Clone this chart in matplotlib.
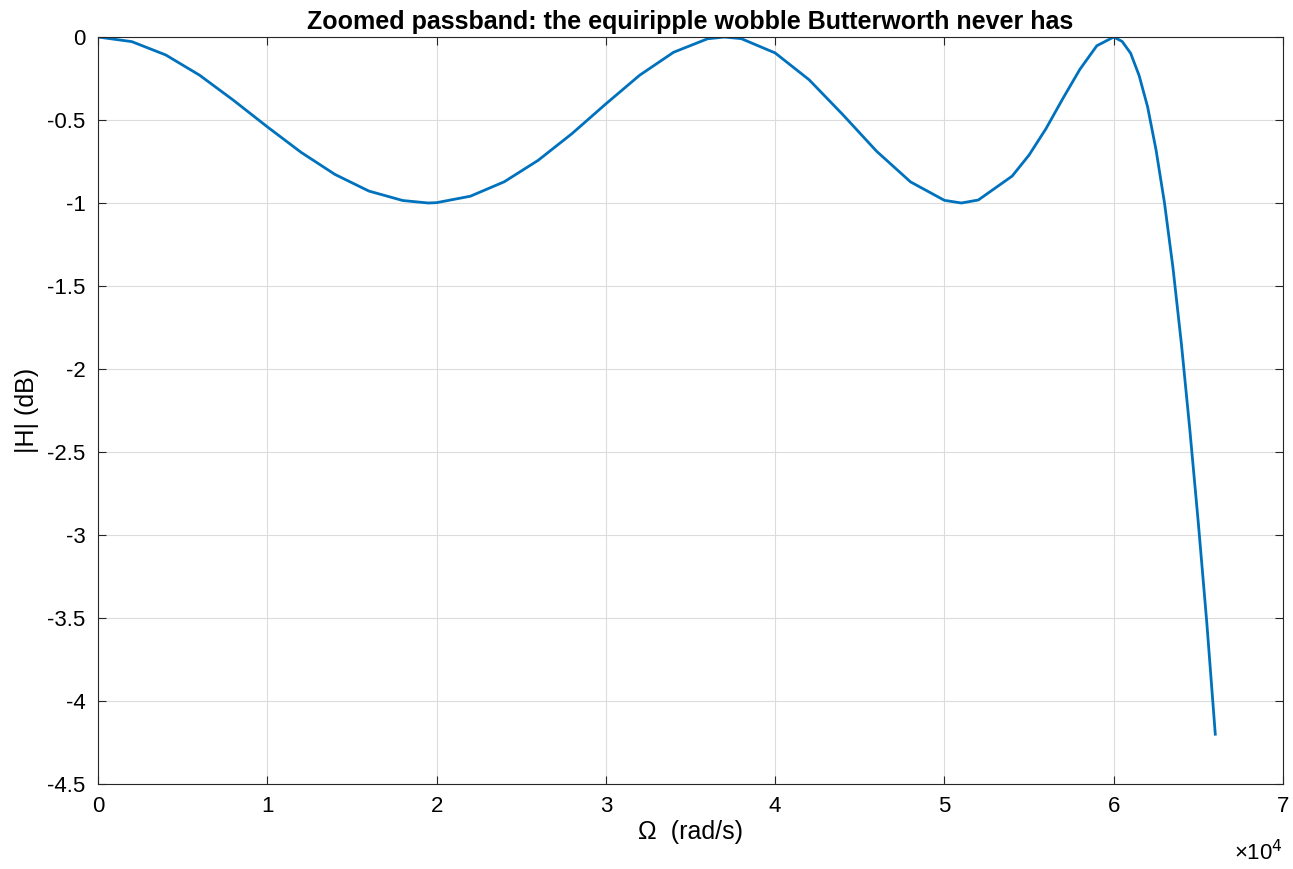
import matplotlib
matplotlib.use('agg')
import matplotlib.pyplot as plt
import numpy as np

plt.rcParams['font.family'] = ['Liberation Sans', 'DejaVu Sans']

# values (omega in 1e4 rad/s, gain in dB)
omega = [0, 0.2, 0.4, 0.6, 0.8, 1.0, 1.2, 1.4, 1.6, 1.8, 1.95, 2.0, 2.2, 2.4, 2.6, 2.8,
         3.0, 3.2, 3.4, 3.6, 3.7, 3.8, 4.0, 4.2, 4.4, 4.6, 4.8, 5.0, 5.1, 5.2, 5.4,
         5.5, 5.6, 5.7, 5.8, 5.9, 6.0, 6.05, 6.1, 6.15, 6.2, 6.25, 6.3, 6.35, 6.4,
         6.45, 6.5, 6.55, 6.6]
gain_db = [0, -0.028, -0.108, -0.230, -0.381, -0.541, -0.695, -0.828, -0.928, -0.985, -1.0,
           -0.998, -0.959, -0.872, -0.743, -0.582, -0.403, -0.230, -0.092, -0.011, 0.0,
           -0.010, -0.096, -0.257, -0.468, -0.689, -0.873, -0.984, -1.0, -0.982, -0.838,
           -0.711, -0.552, -0.370, -0.195, -0.053, 0.0, -0.027, -0.098, -0.232, -0.420,
           -0.680, -1.0, -1.39, -1.85, -2.37, -2.93, -3.53, -4.2]

fig = plt.figure(figsize=(12.93, 8.69), dpi=100)
ax = fig.add_axes([98/1293, 1 - 784/869, (1283 - 98)/1293, (784 - 37)/869])

ax.plot(omega, gain_db, color='#0072BD', lw=2, solid_joinstyle='round')

ax.set_xlim(0, 7)
ax.set_ylim(-4.5, 0)
ax.set_xticks(np.arange(0, 8, 1))
ax.set_yticks(np.arange(-4.5, 0.01, 0.5))
ax.set_xticklabels([str(i) for i in range(8)])
ax.set_yticklabels(['-4.5', '-4', '-3.5', '-3', '-2.5', '-2', '-1.5', '-1', '-0.5', '0'])
ax.tick_params(labelsize=16, direction='in', top=True, right=True, length=6,
               color='#262626', pad=9)
ax.grid(True, color='#dcdcdc', lw=0.8)
for s in ax.spines.values():
    s.set_color('#262626')
    s.set_linewidth(0.8)

ax.set_xlabel('Ω  (rad/s)', fontsize=18, labelpad=2)
ax.set_ylabel('|H| (dB)', fontsize=18, labelpad=6)
ax.set_title('Zoomed passband: the equiripple wobble Butterworth never has',
             fontsize=18, fontweight='bold', pad=6)
ax.text(1.0, -0.075, '×10$^4$', transform=ax.transAxes, ha='right', va='top', fontsize=16)

fig.savefig('out.png', dpi=100)
